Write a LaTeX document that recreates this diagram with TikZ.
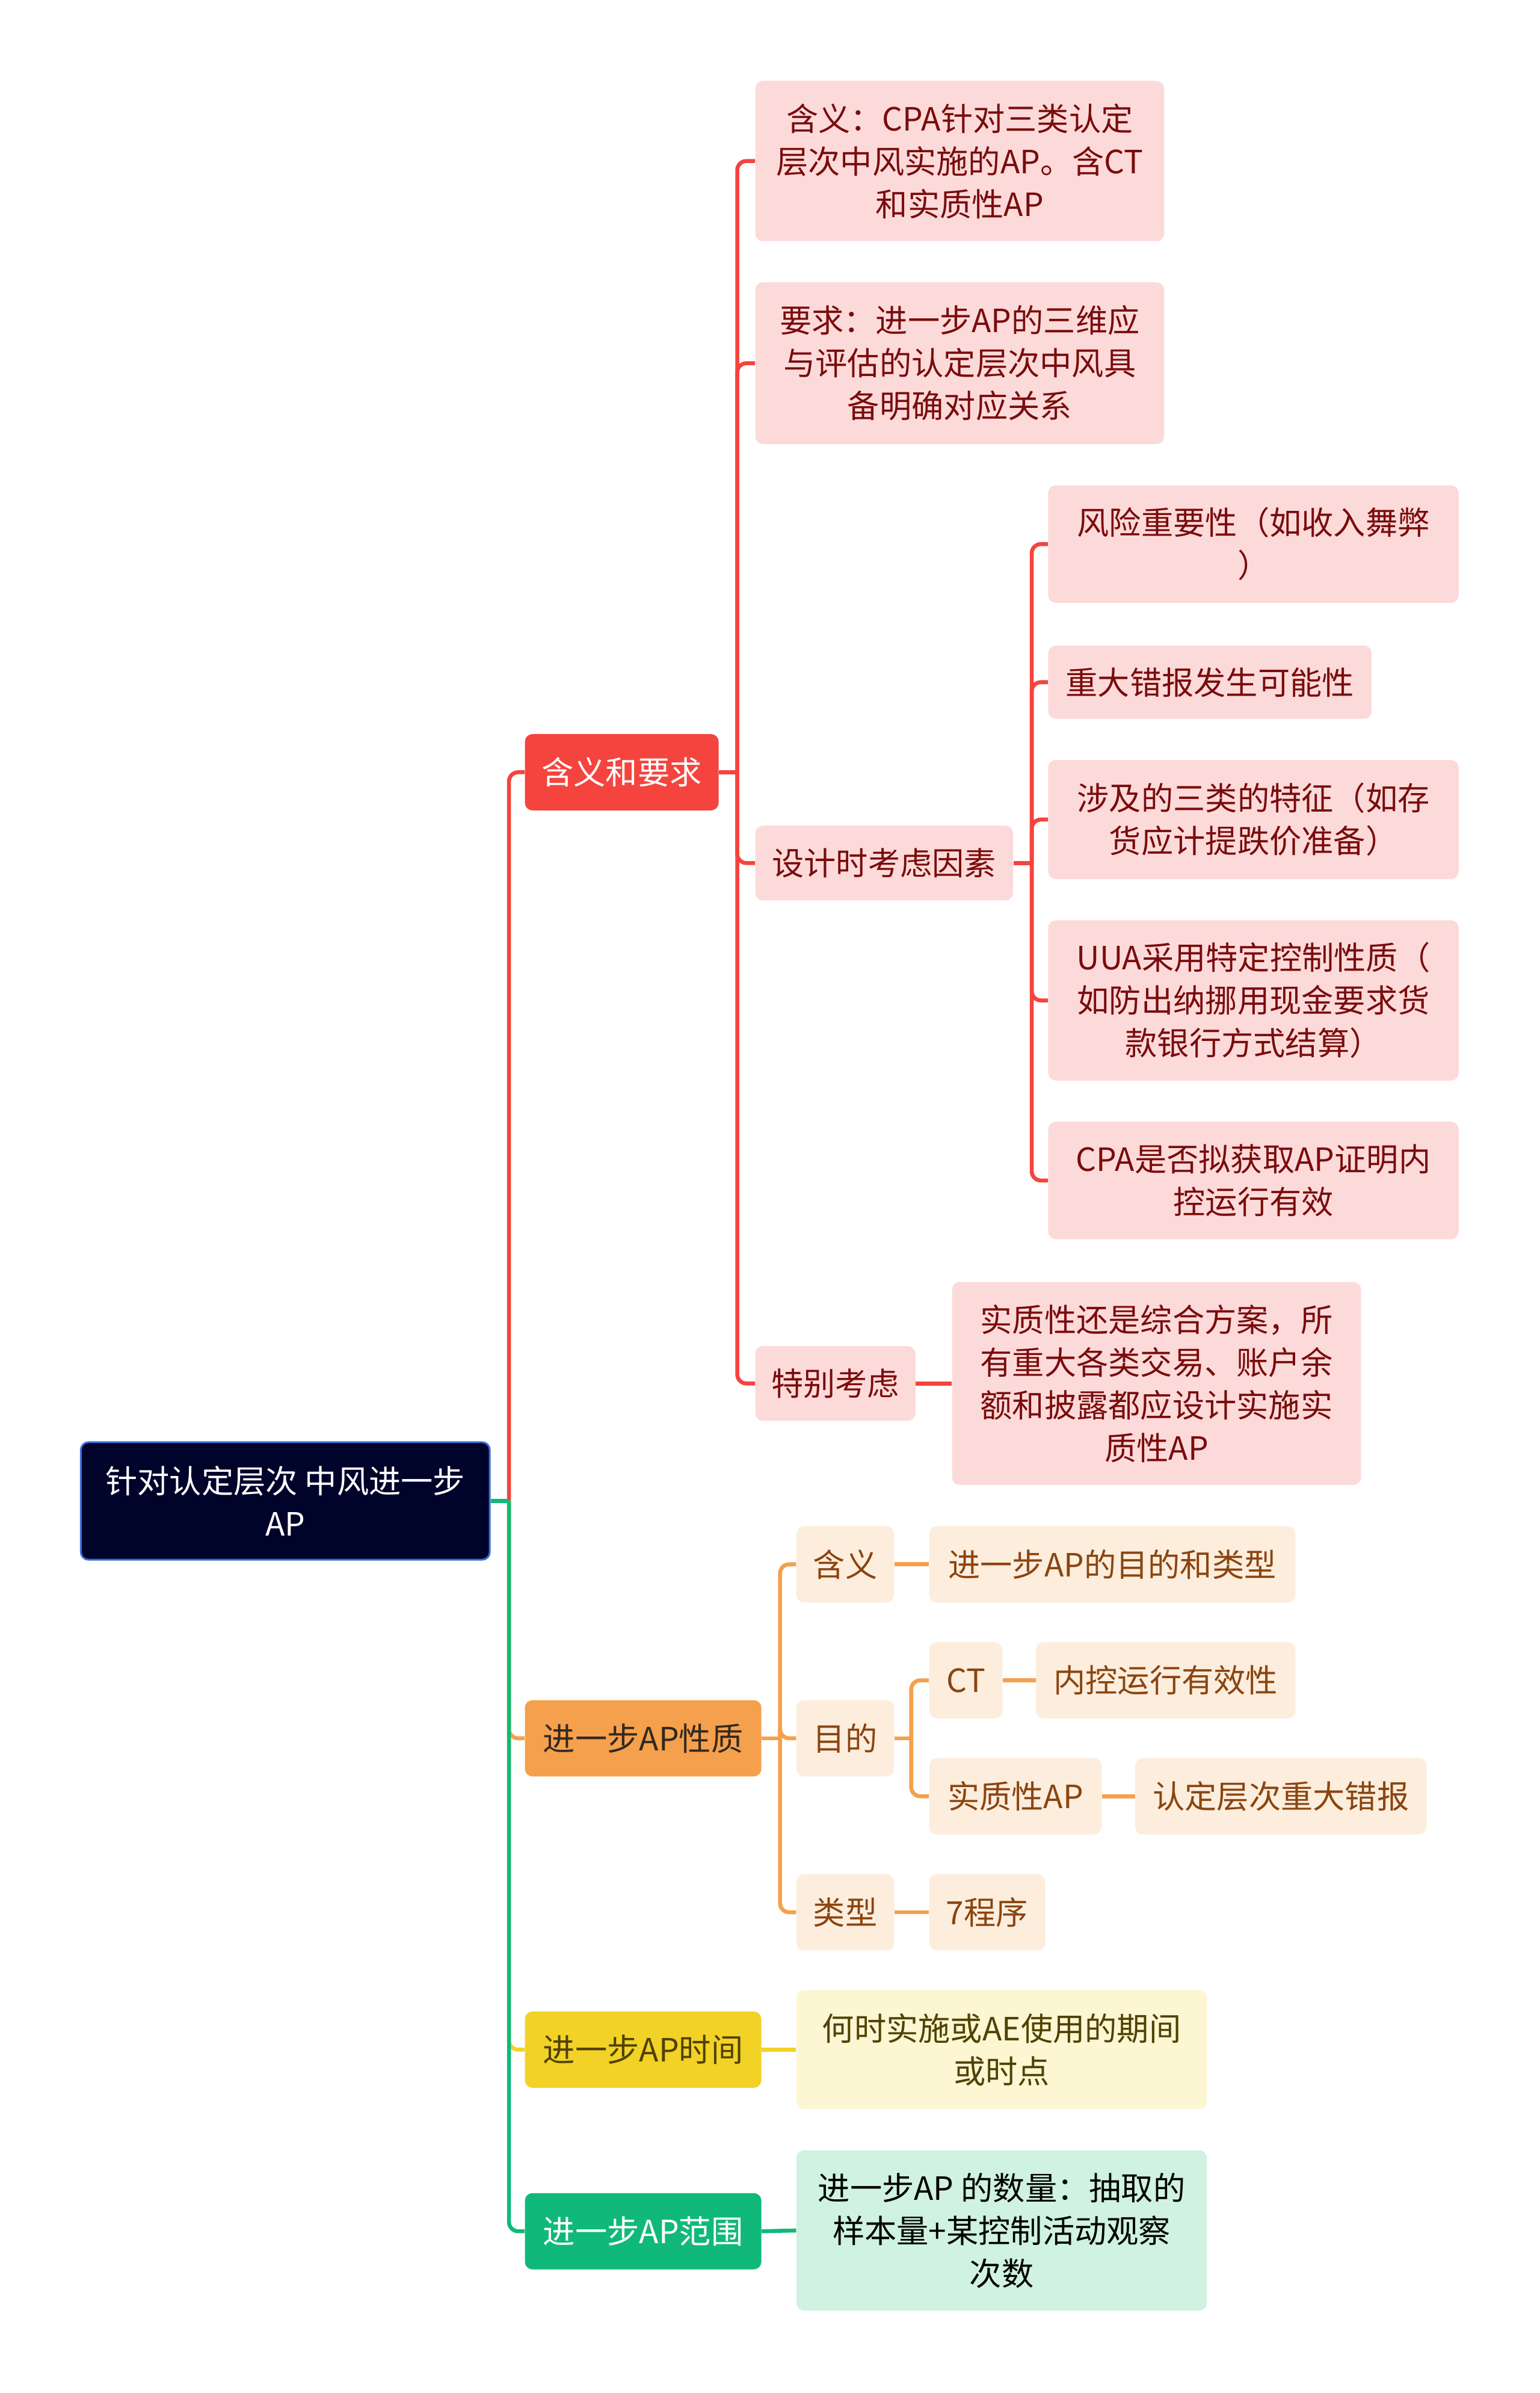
\documentclass[tikz,border=0pt]{standalone}
\usepackage{fontspec}
\setmainfont{Noto Sans CJK SC}
\usetikzlibrary{positioning}
\definecolor{rootFill}{HTML}{00032A}
\definecolor{rootLine}{HTML}{3A6FD8}
\definecolor{redMain}{HTML}{F5443E}
\definecolor{redLight}{HTML}{FDDADA}
\definecolor{redText}{HTML}{7A0C0C}
\definecolor{orgMain}{HTML}{F5A04C}
\definecolor{orgLight}{HTML}{FDEDDD}
\definecolor{orgText}{HTML}{8A4510}
\definecolor{ylwMain}{HTML}{F2D226}
\definecolor{ylwLight}{HTML}{FCF6D3}
\definecolor{ylwText}{HTML}{4F4200}
\definecolor{grnMain}{HTML}{10B97A}
\definecolor{grnLight}{HTML}{CFF2E2}
\definecolor{darkText}{HTML}{33291F}

\tikzset{
  box/.style={rounded corners=5pt, inner sep=0pt, align=center,
              font=\fontsize{21}{28}\selectfont},
  redbox/.style={box, fill=redLight, text=redText},
  orgbox/.style={box, fill=orgLight, text=orgText},
  redlink/.style={draw=redMain, line width=2.6pt},
  orglink/.style={draw=orgMain, line width=2.6pt},
  ylwlink/.style={draw=ylwMain, line width=2.6pt},
  grnlink/.style={draw=grnMain, line width=2.6pt}
}

\begin{document}
\begin{tikzpicture}[x=1pt, y=-1pt]
    \fill[white] (0,0) rectangle (1009,1568);
    \useasboundingbox (0,0) rectangle (1009,1568);

    % root and main branches
    \node[box, fill=rootFill, draw=rootLine, line width=1.2pt, text=white,
          minimum width=268pt, minimum height=77pt] (root) at (187,983.5)
          {针对认定层次 中风进一步\\AP};
    \node[box, fill=redMain, text=white, minimum width=127pt, minimum height=50pt]
          (hanyi) at (407.5,506) {含义和要求};
    \node[box, fill=orgMain, text=darkText, minimum width=155pt, minimum height=50pt]
          (xingzhi) at (421.5,1139) {进一步AP性质};
    \node[box, fill=ylwMain, text=ylwText, minimum width=155pt, minimum height=50pt]
          (shijian) at (421.5,1343) {进一步AP时间};
    \node[box, fill=grnMain, text=white, minimum width=155pt, minimum height=50pt]
          (fanwei) at (421.5,1462) {进一步AP范围};

    % 含义和要求
    \node[redbox, minimum width=268pt, minimum height=105pt] (def) at (629,105.5)
          {含义：CPA针对三类认定\\层次中风实施的AP。含CT\\和实质性AP};
    \node[redbox, minimum width=268pt, minimum height=106pt] (req) at (629,238)
          {要求：进一步AP的三维应\\与评估的认定层次中风具\\备明确对应关系};
    \node[redbox, minimum width=169pt, minimum height=49pt] (design) at (579.5,565.5)
          {设计时考虑因素};
    \node[redbox, minimum width=105pt, minimum height=49pt] (special) at (547.5,906.5)
          {特别考虑};

    \node[redbox, minimum width=269pt, minimum height=77pt] (fac1) at (821.5,356.5)
          {风险重要性（如收入舞弊\\）};
    \node[redbox, minimum width=212pt, minimum height=48pt] (fac2) at (793,447)
          {重大错报发生可能性};
    \node[redbox, minimum width=269pt, minimum height=78pt] (fac3) at (821.5,537)
          {涉及的三类的特征（如存\\货应计提跌价准备）};
    \node[redbox, minimum width=269pt, minimum height=105pt] (fac4) at (821.5,655.5)
          {UUA采用特定控制性质（\\如防出纳挪用现金要求货\\款银行方式结算）};
    \node[redbox, minimum width=269pt, minimum height=77pt] (fac5) at (821.5,773.5)
          {CPA是否拟获取AP证明内\\控运行有效};
    \node[redbox, minimum width=268pt, minimum height=133pt] (plan) at (758,906.5)
          {实质性还是综合方案，所\\有重大各类交易、账户余\\额和披露都应设计实施实\\质性AP};

    % 进一步AP性质
    \node[orgbox, minimum width=64pt, minimum height=50pt] (meaning) at (554,1025) {含义};
    \node[orgbox, minimum width=240pt, minimum height=50pt] (meaningtxt) at (729,1025)
          {进一步AP的目的和类型};
    \node[orgbox, minimum width=64pt, minimum height=50pt] (goal) at (554,1139) {目的};
    \node[orgbox, minimum width=48pt, minimum height=50pt] (ct) at (633,1101) {CT};
    \node[orgbox, minimum width=170pt, minimum height=50pt] (cttxt) at (764,1101)
          {内控运行有效性};
    \node[orgbox, minimum width=113pt, minimum height=50pt] (subst) at (665.5,1177)
          {实质性AP};
    \node[orgbox, minimum width=191pt, minimum height=50pt] (substtxt) at (839.5,1177)
          {认定层次重大错报};
    \node[orgbox, minimum width=64pt, minimum height=50pt] (kind) at (554,1253) {类型};
    \node[orgbox, minimum width=76pt, minimum height=50pt] (kindtxt) at (647,1253) {7程序};

    % 时间 / 范围
    \node[box, fill=ylwLight, text=ylwText, minimum width=269pt, minimum height=78pt]
          (when) at (656.5,1343) {何时实施或AE使用的期间\\或时点};
    \node[box, fill=grnLight, text=black, minimum width=269pt, minimum height=105pt]
          (howmuch) at (656.5,1461.5) {进一步AP 的数量：抽取的\\样本量+某控制活动观察\\次数};

    % links from root
    \coordinate (rbus) at ([xshift=12pt]root.east);
    \draw[redlink, rounded corners=6pt] (rbus) |- (hanyi.west);
    \draw[orglink, rounded corners=6pt] (rbus) |- (xingzhi.west);
    \draw[ylwlink, rounded corners=6pt] (rbus) |- (shijian.west);
    \draw[grnlink, rounded corners=6pt] (rbus) |- (fanwei.west);
    \draw[grnlink] (root.east) -- (rbus);

    % links in red branch
    \draw[redlink] (hanyi.east) -- ++(12pt,0) coordinate (hbus);
    \foreach \n in {def,req,design,special}
      \draw[redlink, rounded corners=6pt] (hbus) |- (\n.west);
    \draw[redlink] (design.east) -- ++(12pt,0) coordinate (dbus);
    \foreach \n in {fac1,fac2,fac3,fac4,fac5}
      \draw[redlink, rounded corners=6pt] (dbus) |- (\n.west);
    \draw[redlink] (special.east) -- (plan.west);

    % links in orange branch
    \draw[orglink] (xingzhi.east) -- ++(12pt,0) coordinate (xbus);
    \foreach \n in {meaning,goal,kind}
      \draw[orglink, rounded corners=6pt] (xbus) |- (\n.west);
    \draw[orglink] (meaning.east) -- (meaningtxt.west);
    \draw[orglink] (goal.east) -- ++(11pt,0) coordinate (gbus);
    \foreach \n in {ct,subst}
      \draw[orglink, rounded corners=6pt] (gbus) |- (\n.west);
    \draw[orglink] (ct.east) -- (cttxt.west);
    \draw[orglink] (subst.east) -- (substtxt.west);
    \draw[orglink] (kind.east) -- (kindtxt.west);

    % links in yellow and green branches
    \draw[ylwlink] (shijian.east) -- (when.west);
    \draw[grnlink] (fanwei.east) -- (howmuch.west);
\end{tikzpicture}
\end{document}
